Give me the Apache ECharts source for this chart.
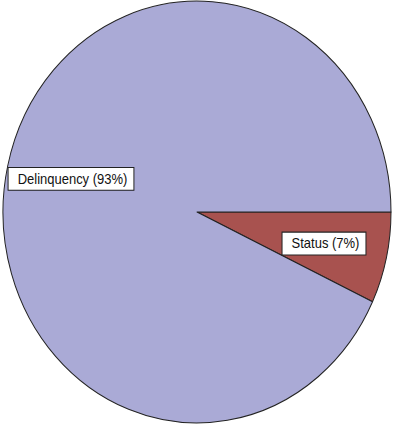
<!DOCTYPE html>
<html>
<head>
<meta charset="utf-8">
<script src="https://cdn.jsdelivr.net/npm/echarts@6/dist/echarts.min.js"></script>
<style>
  html, body { margin: 0; padding: 0; background: #fff; width: 393px; height: 424px; overflow: hidden; }
  #wrap { width: 393px; height: 424px; overflow: visible; }
  /* the reference pie is slightly taller than wide, so stretch the chart vertically */
  #chart { width: 393px; height: 390px; transform: scaleY(1.0872); transform-origin: 0 0; }
</style>
</head>
<body>
<div id="wrap"><div id="chart"></div></div>
<script>
  const categories = ['Status', 'Delinquency'];
  const shares = [7, 93];
  const sliceColors = ['#A8524F', '#AAAAD6'];

  const chart = echarts.init(document.getElementById('chart'), null, { renderer: 'svg' });

  // label box centres (in unstretched chart pixels)
  const labelSpots = [[324, 224], [71, 164.5]];

  chart.setOption({
    animation: false,
    series: [{
      type: 'pie',
      center: [197, 195],
      radius: 194,
      startAngle: 0,
      clockwise: true,
      silent: true,
      itemStyle: { borderColor: '#222', borderWidth: 1 },
      label: {
        show: true,
        position: 'inside',
        formatter: p => `${p.name} (${p.value}%)`,
        color: '#111',
        fontFamily: 'Liberation Sans, Arial, sans-serif',
        fontSize: 13,
        backgroundColor: '#fff',
        borderColor: '#222',
        borderWidth: 1,
        padding: [4, 6, 3, 9]
      },
      labelLine: { show: false },
      labelLayout: p => ({
        x: labelSpots[p.dataIndex][0],
        y: labelSpots[p.dataIndex][1],
        align: 'center',
        verticalAlign: 'middle'
      }),
      data: categories.map((c, i) => ({
        name: c,
        value: shares[i],
        itemStyle: { color: sliceColors[i] }
      }))
    }]
  });
</script>
</body>
</html>
